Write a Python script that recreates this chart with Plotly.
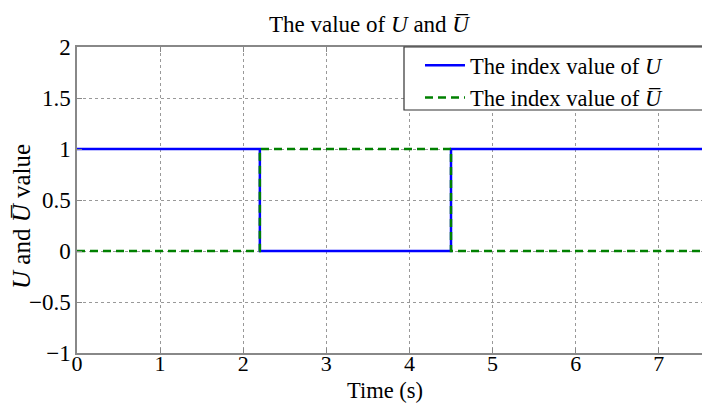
import plotly.graph_objects as go

# Data
time_points = [0, 2.2, 4.5, 7.6]
u_values = [1, 0, 1, 1]
ubar_values = [0, 1, 0, 0]
x_ticks = [0, 1, 2, 3, 4, 5, 6, 7]
y_ticks = [-1, -0.5, 0, 0.5, 1, 1.5, 2]

UBAR = "<i>U\u0305</i>"
FONT = "Liberation Serif"

W, H = 702, 405
L, R, T, B = 77, 0, 47, 52
PW, PH = W - L - R, H - T - B


def px_x(px):
    return (px - L) / PW


def px_y(py):
    return (H - B - py) / PH


fig = go.Figure()
fig.add_trace(go.Scatter(
    x=time_points, y=u_values, mode="lines", line_shape="hv",
    line=dict(color="#0000ff", width=2.5),
    name="The index value of <i>U</i>",
))
fig.add_trace(go.Scatter(
    x=time_points, y=ubar_values, mode="lines", line_shape="hv",
    line=dict(color="#008000", width=2.5, dash="8px,5px"),
    name="The index value of " + UBAR,
))

fig.update_layout(
    width=W, height=H,
    margin=dict(l=L, r=R, t=T, b=B),
    paper_bgcolor="white", plot_bgcolor="white",
    font=dict(family=FONT, size=23, color="black"),
    title=dict(text="The value of <i>U</i> and " + UBAR,
               x=px_x(369), xref="paper", xanchor="center",
               y=1 - 24 / H, yanchor="middle",
               font=dict(family=FONT, size=23)),
    legend=dict(x=px_x(420), y=px_y(44), xanchor="left", yanchor="top",
                borderwidth=0, bgcolor="rgba(0,0,0,0)",
                font=dict(family=FONT, size=22.5), tracegroupgap=0,
                itemwidth=40),
    showlegend=True,
    shapes=[dict(type="rect", xref="paper", yref="paper",
                 x0=px_x(404), x1=px_x(712), y0=px_y(110), y1=1,
                 line=dict(color="#333333", width=1.2),
                 fillcolor="white", layer="above")],
    annotations=[
        dict(text="Time (s)", xref="paper", yref="paper",
             x=px_x(385), y=px_y(390), xanchor="center", yanchor="middle",
             showarrow=False, borderpad=0, font=dict(family=FONT, size=22.5)),
        dict(text="<i>U</i> and " + UBAR + " value", xref="paper", yref="paper",
             x=px_x(21), y=px_y(217), xanchor="center", yanchor="middle",
             textangle=-90, showarrow=False, font=dict(family=FONT, size=25)),
    ],
)
fig.update_xaxes(
    range=[0, 7.52], tickvals=x_ticks, ticks="inside", ticklen=5,
    tickcolor="#888888", showline=True, linecolor="#888888", linewidth=1.5,
    mirror="ticks", showgrid=True, gridcolor="#999999", griddash="dot",
    gridwidth=1, zeroline=False, tickfont=dict(family=FONT, size=22),
    ticklabelstandoff=-10,
)
fig.update_yaxes(
    range=[-1, 2], tickvals=y_ticks, ticks="inside", ticklen=5,
    tickcolor="#888888", showline=True, linecolor="#888888", linewidth=1.5,
    showgrid=True, gridcolor="#999999", griddash="dot", gridwidth=1,
    zeroline=False,
)

fig.write_html("out.html")
